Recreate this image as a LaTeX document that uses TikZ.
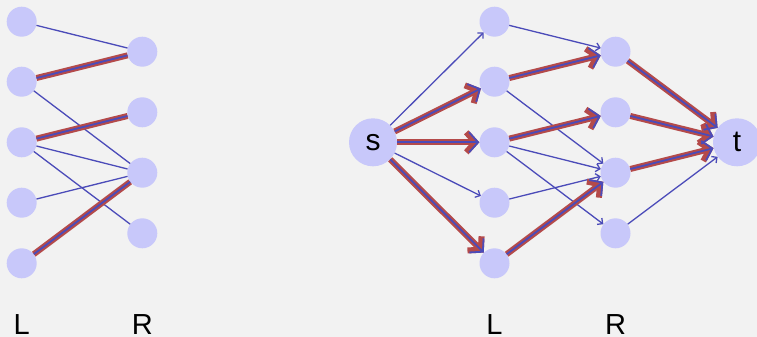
\documentclass[tikz,border=0pt]{standalone}
\usepackage{fontspec}
\setmainfont{Liberation Sans}
\usetikzlibrary{arrows.meta}
\definecolor{bg}{RGB}{242,242,242}
\definecolor{nodefill}{RGB}{200,200,250}
\definecolor{edgeblue}{RGB}{75,75,185}
\definecolor{flowred}{RGB}{180,74,74}
\begin{document}
\begin{tikzpicture}[x=1pt,y=-1pt,
  vtx/.style={circle, fill=nodefill, minimum size=30pt, inner sep=0pt},
  bigvtx/.style={vtx, minimum size=48pt, font=\fontsize{30}{36}\selectfont},
  lbl/.style={anchor=base, inner sep=0pt, font=\fontsize{29}{34}\selectfont},
  thinedge/.style={draw=edgeblue, line width=1.3pt},
  thinarrow/.style={thinedge, -{Straight Barb[length=4pt,width=8pt]}},
  flowback/.style={draw=flowred, line width=6pt},
  flowfront/.style={draw=edgeblue, line width=1.8pt},
  flowbackarrow/.style={flowback, -{Straight Barb[length=9pt,width=20pt]}},
  flowfrontarrow/.style={flowfront, -{Straight Barb[length=9pt,width=20pt]}}
]
\fill[bg] (0,0) rectangle (757,337);
\useasboundingbox (0,0) rectangle (757,337);

% left bipartite graph
\foreach \i/\y in {1/21.7,2/81.7,3/142.3,4/202.7,5/263.3}
  \node[vtx] (a\i) at (21.7,\y) {};
\foreach \i/\y in {1/51.7,2/112.3,3/172.7,4/233.3}
  \node[vtx] (b\i) at (142.3,\y) {};

% right flow network
\foreach \i/\y in {1/21.7,2/81.7,3/142.3,4/202.7,5/263.3}
  \node[vtx] (l\i) at (494.5,\y) {};
\foreach \i/\y in {1/51.7,2/112.3,3/172.7,4/233.3}
  \node[vtx] (r\i) at (615.5,\y) {};
\node[bigvtx] (s) at (373,142.3) {s};
\node[bigvtx] (t) at (737,142.3) {t};

% labels
\node[lbl] (labL1) at (21.7,334) {L};
\node[lbl] (labR1) at (142.3,334) {R};
\node[lbl] (labL2) at (494.5,334) {L};
\node[lbl] (labR2) at (615.5,334) {R};

% left graph edges
\foreach \u/\v in {a1/b1,a2/b3,a3/b3,a3/b4,a4/b3}
  \draw[thinedge] (\u) -- (\v);
\foreach \u/\v in {a2/b1,a3/b2,a5/b3}
  \draw[flowback] (\u) -- (\v);
\foreach \u/\v in {a2/b1,a3/b2,a5/b3}
  \draw[flowfront] (\u) -- (\v);

% right graph edges
\foreach \u/\v in {s/l1,s/l4,l1/r1,l2/r3,l3/r3,l3/r4,l4/r3,r4/t}
  \draw[thinarrow] (\u) -- (\v);
\foreach \u/\v in {s/l2,s/l3,s/l5,l2/r1,l3/r2,l5/r3,r1/t,r2/t,r3/t}
  \draw[flowbackarrow] (\u) -- (\v);
\foreach \u/\v in {s/l2,s/l3,s/l5,l2/r1,l3/r2,l5/r3,r1/t,r2/t,r3/t}
  \draw[flowfrontarrow] (\u) -- (\v);
\end{tikzpicture}
\end{document}
